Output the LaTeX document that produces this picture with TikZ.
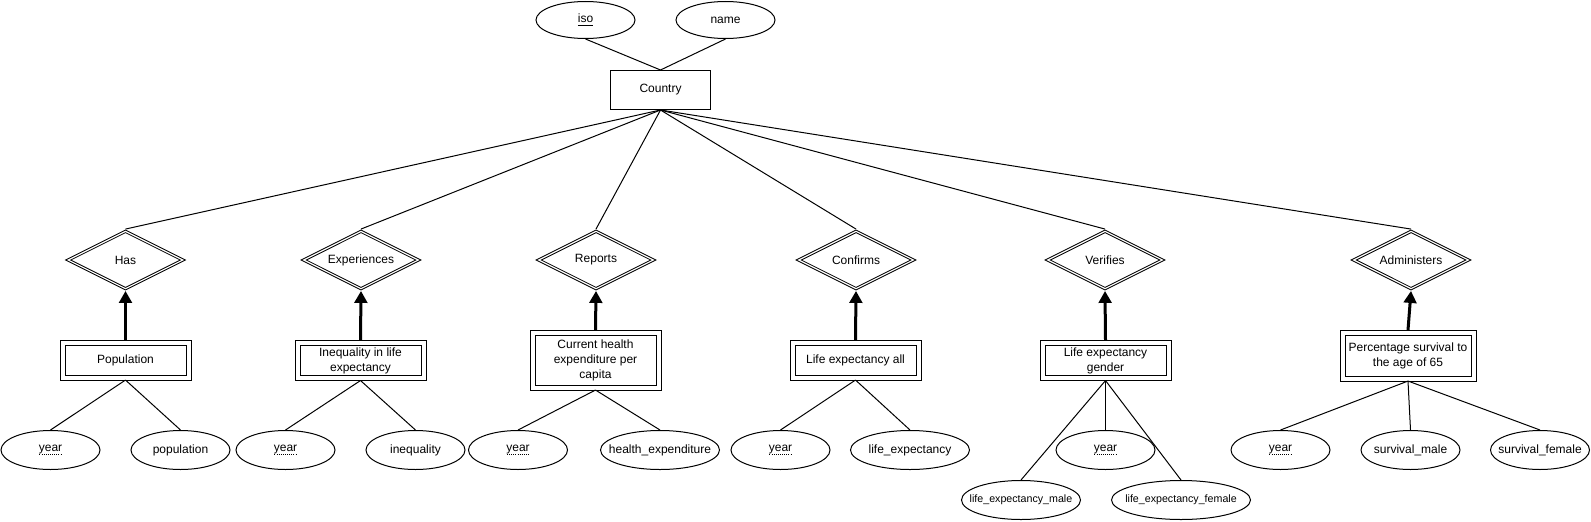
\documentclass[tikz,border=0pt]{standalone}
\usepackage{fontspec}
\setmainfont{Liberation Sans}
\usetikzlibrary{shapes.geometric,arrows.meta}

\newcommand{\primarykey}[1]{\underline{#1}}
\newcommand{\partkey}[1]{\setbox0=\hbox{#1}\rlap{\copy0}%
  \raisebox{-2.2pt}{\hbox to \wd0{\xleaders\hbox to 1.5pt{\hss\rule{0.75pt}{0.55pt}\hss}\hfill}}}
\newcommand{\snug}[1]{\makebox[0pt]{#1}}

\tikzset{
  erfont/.style={font=\fontsize{9}{11.25}\selectfont, align=center},
  smallfont/.style={font=\fontsize{8}{10}\selectfont},
  entity/.style={erfont, draw, line width=0.75pt, inner sep=0pt,
    minimum width=75pt, minimum height=29.25pt},
  weak/.style={erfont, draw, line width=0.75pt, double, double distance=3pt,
    inner sep=0pt, outer sep=1.9pt, minimum width=94.5pt, minimum height=26.25pt},
  rel/.style={erfont, diamond, aspect=2, draw, line width=0.75pt, double,
    double distance=0.9pt, inner sep=0pt, outer sep=1.2pt,
    minimum width=87pt, minimum height=44pt},
  attr/.style={erfont, ellipse, draw, line width=0.75pt, inner sep=0pt,
    minimum width=74.25pt, minimum height=29.25pt},
  link/.style={line width=0.75pt},
  identarrow/.style={line width=2.25pt, -{Triangle[length=9pt,width=9.5pt]}},
}

\begin{document}
\begin{tikzpicture}[x=0.75pt, y=-0.75pt]
  \useasboundingbox (0,0) rectangle (1591,521);
  % Nodes
  \node[entity] (country) at (660.5,90) {Country} ; %
  \node[attr, minimum height=27.75pt] (iso) at (585.5,20) {\primarykey{iso}} ; %
  \node[attr, minimum height=27.75pt] (name) at (725.5,20) {name} ; %

  \node[rel] (has) at (125.5,260) {Has} ; %
  \node[rel] (experiences) at (361,260) {Experiences} ; %
  \node[rel] (reports) at (596,260) {Reports} ; %
  \node[rel] (confirms) at (856,260) {Confirms} ; %
  \node[rel] (verifies) at (1105,260) {Verifies} ; %
  \node[rel] (administers) at (1411,260) {Administers} ; %

  \node[weak] (population) at (125.5,360) {Population} ; %
  \node[weak] (inequality) at (360.5,360.5) {Inequality in life\\expectancy} ; %
  \node[weak, minimum height=41.25pt] (health) at (595.5,360) {Current health\\expenditure per\\capita} ; %
  \node[weak] (lifeall) at (855.5,360) {Life expectancy all} ; %
  \node[weak] (lifegender) at (1105.5,360.5) {Life expectancy\\gender} ; %
  \node[weak, minimum width=98.25pt, minimum height=34.5pt] (survival) at (1408,355.5) {Percentage survival to\\the age of 65} ; %

  \node[attr] (popyear) at (50.5,450) {\partkey{year}} ; %
  \node[attr] (popvalue) at (180.5,450) {\snug{population}} ; %
  \node[attr] (ineqyear) at (285.5,450) {\partkey{year}} ; %
  \node[attr] (ineqvalue) at (415.5,450) {\snug{inequality}} ; %
  \node[attr] (healthyear) at (518,450) {\partkey{year}} ; %
  \node[attr, minimum width=89.25pt] (healthvalue) at (660,450) {\snug{health\_expenditure}} ; %
  \node[attr] (allyear) at (780.5,450) {\partkey{year}} ; %
  \node[attr, minimum width=89.25pt] (allvalue) at (910,450) {\snug{life\_expectancy}} ; %
  \node[attr] (genderyear) at (1105.5,450) {\partkey{year}} ; %
  \node[attr, smallfont, minimum width=89.25pt] (gendermale) at (1021,500) {\snug{life\_expectancy\_male}} ; %
  \node[attr, smallfont, minimum width=104.25pt] (genderfemale) at (1181,500) {\snug{life\_expectancy\_female}} ; %
  \node[attr] (survyear) at (1280.5,450) {\partkey{year}} ; %
  \node[attr] (survmale) at (1410.5,450) {\snug{survival\_male}} ; %
  \node[attr] (survfemale) at (1540,450) {\snug{survival\_female}} ; %

  % Edges
  \draw[link] (iso.south) -- (country.north) ; %
  \draw[link] (name.south) -- (country.north) ; %

  \draw[link] (country.south) -- (has.north) ; %
  \draw[link] (country.south) -- (experiences.north) ; %
  \draw[link] (country.south) -- (reports.north) ; %
  \draw[link] (country.south) -- (confirms.north) ; %
  \draw[link] (country.south) -- (verifies.north) ; %
  \draw[link] (country.south) -- (administers.north) ; %

  \draw[identarrow] (population.north) -- (has.south) ; %
  \draw[identarrow] (inequality.north) -- (experiences.south) ; %
  \draw[identarrow] (health.north) -- (reports.south) ; %
  \draw[identarrow] (lifeall.north) -- (confirms.south) ; %
  \draw[identarrow] (lifegender.north) -- (verifies.south) ; %
  \draw[identarrow] (survival.north) -- (administers.south) ; %

  \draw[link] (population.south) -- (popyear.north) ; %
  \draw[link] (population.south) -- (popvalue.north) ; %
  \draw[link] (inequality.south) -- (ineqyear.north) ; %
  \draw[link] (inequality.south) -- (ineqvalue.north) ; %
  \draw[link] (health.south) -- (healthyear.north) ; %
  \draw[link] (health.south) -- (healthvalue.north) ; %
  \draw[link] (lifeall.south) -- (allyear.north) ; %
  \draw[link] (lifeall.south) -- (allvalue.north) ; %
  \draw[link] (lifegender.south) -- (genderyear.north) ; %
  \draw[link] (lifegender.south) -- (gendermale.north) ; %
  \draw[link] (lifegender.south) -- (genderfemale.north) ; %
  \draw[link] (survival.south) -- (survyear.north) ; %
  \draw[link] (survival.south) -- (survmale.north) ; %
  \draw[link] (survival.south) -- (survfemale.north) ; %
\end{tikzpicture}
\end{document}
